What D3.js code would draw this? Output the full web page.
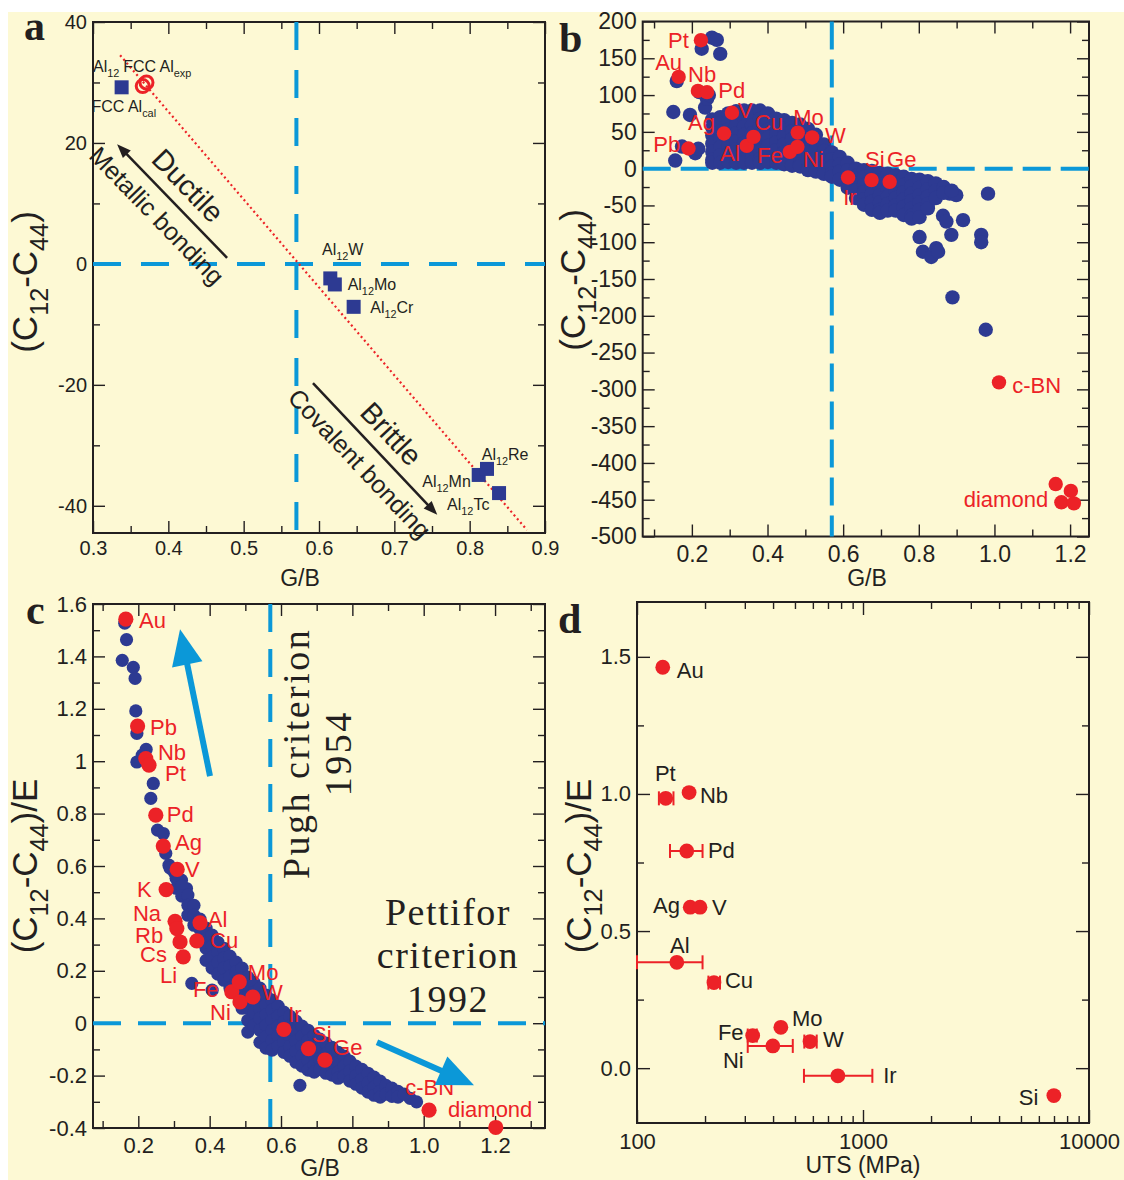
<!DOCTYPE html>
<html><head><meta charset="utf-8">
<script src="https://cdn.jsdelivr.net/npm/d3@7"></script>
<style>body{margin:0;background:#fff}svg{display:block}</style>
</head><body><script>
// ---------------- DATA ----------------
// Panel a: Al12X compounds (G/B, C12-C44)
const aSquares = [
  {name:"Al12",   gb:0.338, v:29.2},
  {name:"Al12W",  gb:0.615, v:-2.4},
  {name:"Al12Mo", gb:0.621, v:-3.4},
  {name:"Al12Cr", gb:0.646, v:-7.1},
  {name:"Al12Mn", gb:0.812, v:-34.9},
  {name:"Al12Re", gb:0.823, v:-33.9},
  {name:"Al12Tc", gb:0.839, v:-37.9}
];
const aFccAl = [{name:"exp", gb:0.371, v:30.0},{name:"cal", gb:0.366, v:29.4}];
const aTrend = [[0.336,34.5],[0.876,-44]];
const aLabels = [
  {parts:[["Al",0],["12",1]], gb:0.300, v:31.7},
  {parts:[["FCC Al",0],["exp",1]], gb:0.340, v:31.7},
  {parts:[["FCC Al",0],["cal",1]], gb:0.298, v:25.1},
  {parts:[["Al",0],["12",1],["W",0]], gb:0.604, v:1.5},
  {parts:[["Al",0],["12",1],["Mo",0]], gb:0.638, v:-4.3},
  {parts:[["Al",0],["12",1],["Cr",0]], gb:0.668, v:-8.1},
  {parts:[["Al",0],["12",1],["Re",0]], gb:0.816, v:-32.4},
  {parts:[["Al",0],["12",1],["Mn",0]], gb:0.737, v:-36.9},
  {parts:[["Al",0],["12",1],["Tc",0]], gb:0.770, v:-40.7}
];
const aArrows = [
  {from:[0.478,1.0], to:[0.332,19.8], up:"Ductile", down:"Metallic bonding"},
  {from:[0.592,-19.7], to:[0.757,-41.5], up:"Brittle", down:"Covalent bonding"}
];
const pughGB = 0.57;

// Panel b: all elements/compounds (G/B, C12-C44 in GPa)
const bScatter = [
  [0.253,178],[0.266,175],[0.226,163],[0.275,156],[0.160,119],[0.151,77],[0.195,73],
  [0.235,83],[0.240,95],[0.156,11],[0.174,30],[0.209,21],[0.217,27],[0.220,104],[0.245,100],
  [0.983,-34],[0.864,-64],[0.873,-72],[0.917,-70],[0.886,-90],[0.965,-90],[0.965,-100],
  [0.802,-93],[0.811,-113],[0.846,-108],[0.833,-120],[0.851,-113],[0.882,-34],[0.899,-36],
  [0.889,-175],[0.977,-219]
];
const bCloud = [
  [0.254,[67,56,45,34,23,12,8]],[0.275,[70,62,51,40,29,18,8]],[0.296,[75,64,53,42,31,20,9]],
  [0.317,[78,70,59,48,37,26,15,8]],[0.338,[79,68,57,46,35,24,13,8]],[0.359,[79,70,59,48,37,26,15,8]],
  [0.380,[79,68,57,46,35,24,13,8]],[0.401,[75,64,53,42,31,20,9]],[0.423,[68,58,47,36,25,14,8]],
  [0.444,[66,55,44,33,22,11,6]],[0.465,[62,51,40,29,18,7,4]],[0.486,[60,50,39,28,17,6,3]],
  [0.507,[54,44,33,22,11,0,-2]],[0.528,[46,36,25,14,3,-4]],[0.549,[33,24,13,2,-7]],
  [0.570,[22,13,3,-7,-11]],[0.591,[16,6,-4,-15]],[0.612,[8,-2,-12,-22,-26]],
  [0.634,[0,-10,-20,-30,-40]],[0.655,[-2,-12,-22,-32,-42,-49]],[0.676,[-3,-14,-24,-35,-45,-56]],
  [0.697,[-6,-16,-26,-36,-46,-56,-60]],[0.718,[-7,-18,-28,-38,-48,-57]],[0.739,[-9,-19,-30,-40,-50,-57]],
  [0.760,[-11,-22,-32,-42,-52,-63]],[0.781,[-14,-24,-34,-44,-54,-64,-68]],[0.802,[-15,-26,-36,-46,-56,-66]],
  [0.824,[-17,-28,-38,-48,-54]],[0.845,[-20,-30,-40]],[0.866,[-25,-33]],[0.887,[-30]]
];
const bRed = [
  {n:"Pt",gb:0.224,v:174.6},{n:"Au",gb:0.165,v:124.7},{n:"Nb",gb:0.216,v:105.7},{n:"Pd",gb:0.240,v:104},
  {n:"V",gb:0.306,v:76},{n:"Ag",gb:0.285,v:47.8},{n:"Al",gb:0.345,v:31},{n:"Cu",gb:0.363,v:43.2},
  {n:"Pb",gb:0.191,v:27.4},{n:"Mo",gb:0.480,v:49},{n:"W",gb:0.518,v:42.4},{n:"Fe",gb:0.459,v:22.8},
  {n:"Ni",gb:0.479,v:29.6},{n:"Ir",gb:0.613,v:-12},{n:"Si",gb:0.675,v:-15.6},{n:"Ge",gb:0.723,v:-17.9},
  {n:"c-BN",gb:1.012,v:-290.5},
  {n:"diamond",gb:1.162,v:-428.7},{n:"diamond",gb:1.202,v:-438},{n:"diamond",gb:1.177,v:-453.5},{n:"diamond",gb:1.210,v:-455}
];
const bLabels = [
  ["Pt",0.137,163.9,"start"],["Au",0.103,134,"start"],["Nb",0.190,117.7,"start"],["Pd",0.270,96,"start"],
  ["V",0.322,68.8,"start"],["Ag",0.190,52,"start"],["Cu",0.367,52.5,"start"],["Mo",0.468,59.3,"start"],
  ["W",0.552,34.8,"start"],["Pb",0.098,22.6,"start"],["Al",0.275,10.3,"start"],["Fe",0.373,7.6,"start"],
  ["Ni",0.494,2.2,"start"],["Ir",0.600,-49.5,"start"],["Si",0.658,2.2,"start"],["Ge",0.716,2.2,"start"],
  ["c-BN",1.047,-305,"start"],["diamond",1.142,-460,"end"]
];

// Panel c: (C12-C44)/E vs G/B
const cScatter = [
  [0.155,1.385],[0.167,1.464],[0.186,1.358],[0.191,1.316],[0.162,1.527],[0.193,1.192],[0.196,1.106],
  [0.222,1.045],[0.196,0.997],[0.211,1.023],[0.242,0.915],[0.235,0.858],[0.254,0.737],[0.270,0.724],
  [0.277,0.648],[0.286,0.603],[0.300,0.578],[0.321,0.546],[0.335,0.514],
  [0.350,0.152],[0.653,-0.237],[0.962,-0.287],[0.980,-0.300]
];
const cCloud = [
  [0.289,[0.592]],[0.306,[0.553,0.515]],[0.322,[0.523,0.485]],[0.339,[0.489,0.450,0.412]],
  [0.356,[0.450,0.412,0.374]],[0.373,[0.397,0.359,0.317]],[0.390,[0.363,0.324,0.286,0.240]],
  [0.407,[0.336,0.294,0.252,0.210,0.126]],[0.423,[0.309,0.271,0.233,0.187]],[0.440,[0.286,0.248,0.210,0.164]],
  [0.457,[0.256,0.218,0.179,0.134]],[0.474,[0.233,0.195,0.156,0.115]],[0.491,[0.210,0.172,0.134,0.095,0.057]],
  [0.507,[0.176,0.137,0.099,0.057,0.011,-0.034]],[0.524,[0.156,0.118,0.080,0.042,-0.008]],
  [0.541,[0.134,0.095,0.057,0.019,-0.027,-0.073]],[0.558,[0.107,0.069,0.031,-0.008,-0.053,-0.095]],
  [0.575,[0.088,0.050,0.011,-0.027,-0.065,-0.103]],[0.592,[0.065,0.027,-0.011,-0.050,-0.088]],
  [0.608,[0.042,0.004,-0.034,-0.073,-0.111]],[0.625,[0.027,-0.011,-0.050,-0.088,-0.126]],
  [0.642,[0.008,-0.031,-0.069,-0.107,-0.149]],[0.659,[-0.011,-0.050,-0.088,-0.126,-0.164]],
  [0.676,[-0.027,-0.065,-0.103,-0.141,-0.179]],[0.693,[-0.046,-0.084,-0.122,-0.160,-0.187]],
  [0.709,[-0.061,-0.099,-0.137,-0.176]],[0.726,[-0.076,-0.115,-0.153,-0.191]],
  [0.743,[-0.092,-0.130,-0.168,-0.198]],[0.760,[-0.111,-0.149,-0.187,-0.210]],
  [0.777,[-0.126,-0.164,-0.202]],[0.793,[-0.145,-0.183,-0.221]],[0.810,[-0.164,-0.202,-0.233]],
  [0.827,[-0.176,-0.214,-0.248]],[0.844,[-0.191,-0.229,-0.263]],[0.861,[-0.206,-0.244,-0.275]],
  [0.878,[-0.221,-0.260,-0.282]],[0.894,[-0.237,-0.271]],[0.911,[-0.248,-0.279]],
  [0.928,[-0.260,-0.282]],[0.945,[-0.271]]
];
const cRed = [
  {n:"Au",gb:0.165,v:1.542},{n:"Pb",gb:0.198,v:1.134},{n:"Nb",gb:0.221,v:1.010},{n:"Pt",gb:0.230,v:0.985},
  {n:"Pd",gb:0.249,v:0.794},{n:"Ag",gb:0.270,v:0.676},{n:"V",gb:0.309,v:0.587},{n:"K",gb:0.278,v:0.510},
  {n:"Na",gb:0.303,v:0.389},{n:"Rb",gb:0.308,v:0.361},{n:"Cs",gb:0.317,v:0.310},{n:"Li",gb:0.326,v:0.253},
  {n:"Al",gb:0.373,v:0.383},{n:"Cu",gb:0.364,v:0.314},{n:"Fe",gb:0.462,v:0.120},{n:"Mo",gb:0.483,v:0.158},
  {n:"Ni",gb:0.485,v:0.081},{n:"W",gb:0.521,v:0.100},{n:"Ir",gb:0.608,v:-0.024},{n:"Si",gb:0.677,v:-0.097},
  {n:"Ge",gb:0.723,v:-0.141},{n:"c-BN",gb:1.015,v:-0.332},{n:"diamond",gb:1.202,v:-0.398}
];
const cLabels = [
  ["Au",0.202,1.508],["Pb",0.233,1.099],["Nb",0.255,1.004],["Pt",0.275,0.924],["Pd",0.280,0.767],
  ["Ag",0.303,0.660],["V",0.331,0.557],["K",0.196,0.481],["Na",0.185,0.389],["Rb",0.191,0.305],
  ["Cs",0.205,0.233],["Li",0.261,0.153],["Al",0.395,0.366],["Cu",0.401,0.286],["Mo",0.507,0.164],
  ["W",0.547,0.088],["Fe",0.353,0.099],["Ni",0.401,0.011],["Ir",0.620,0.004],["Si",0.687,-0.073],
  ["Ge",0.746,-0.122],["c-BN",0.948,-0.275],["diamond",1.068,-0.359]
];
const cArrows = [{from:[0.401,0.943], to:[0.317,1.504]}, {from:[0.869,-0.073], to:[1.141,-0.237]}];
const pughText = {lines:["Pugh criterion","1954"], gb:[0.679,0.797], v:1.03};
const pettiforText = {lines:["Pettifor","criterion","1992"], gb:1.068, v:[0.374,0.210,0.042]};

// Panel d: UTS (MPa) vs (C12-C44)/E
const dPoints = [
  {n:"Au",uts:130,v:1.462},{n:"Pt",uts:134,v:0.984,lo:125,hi:145},{n:"Nb",uts:170,v:1.005},
  {n:"Pd",uts:166,v:0.792,lo:140,hi:195},{n:"Ag",uts:172,v:0.587},{n:"V",uts:190,v:0.587},
  {n:"Al",uts:150,v:0.386,lo:100,hi:195},{n:"Cu",uts:219,v:0.312,lo:207,hi:233},
  {n:"Mo",uts:433,v:0.149},{n:"Fe",uts:325,v:0.119,lo:309,hi:339},{n:"W",uts:583,v:0.097,lo:550,hi:624},
  {n:"Ni",uts:399,v:0.081,lo:309,hi:489},{n:"Ir",uts:774,v:-0.028,lo:548,hi:1100},{n:"Si",uts:6990,v:-0.100}
];
const dLabels = [
  ["Au",150,1.424],["Pt",120,1.047],["Nb",190,0.967],["Pd",206,0.767],["Ag",117.7,0.566],["V",214.6,0.559],
  ["Al",139.9,0.420],["Cu",245,0.292],["Mo",485,0.154],["Fe",228,0.103],["W",665,0.077],["Ni",240,0.001],
  ["Ir",1228,-0.054],["Si",4894,-0.134]
];

// ---------------- DRAWING ----------------
const SANS = "'Liberation Sans', Arial, Helvetica, sans-serif";
const SERIF = "'Liberation Serif', 'Times New Roman', serif";
const NAVY = "#2d3a92", RED = "#ec2227", SKY = "#0b98d8", INK = "#231f20", CREAM = "#fdf9d4";

const svg = d3.select("body").append("svg").attr("width",1124).attr("height",1180);
svg.append("rect").attr("x",8).attr("y",12).attr("width",1116).attr("height",1168).attr("fill",CREAM);

const aX = d3.scaleLinear().domain([0.3,0.9]).range([93,545]);
const aY = d3.scaleLinear().domain([-44.5,40]).range([533,22]);
const bX = d3.scaleLinear().domain([0.07,1.25]).range([642.7,1089]);
const bY = d3.scaleLinear().domain([-500,200]).range([536.5,21.5]);
const cX = d3.scaleLinear().domain([0.073,1.34]).range([93,545]);
const cY = d3.scaleLinear().domain([-0.4,1.6]).range([1128,604]);
const dX = d3.scaleLog().domain([100,10000]).range([637,1089]);
const dY = d3.scaleLinear().domain([-0.2,1.7]).range([1123,602]);

function frame(g, x, y, o) {
  const [x0,x1] = x.range(), [y0,y1] = y.range();
  const none = () => "";
  const mk = (gen, tx, ty) => g.append("g").attr("transform",`translate(${tx},${ty})`).call(gen);
  mk(d3.axisBottom(x).tickValues(o.xMaj).tickFormat(o.xFmt).tickSize(-o.L).tickSizeOuter(0).tickPadding(o.xPad), 0, y0);
  mk(d3.axisBottom(x).tickValues(o.xMin).tickFormat(none).tickSize(-o.S).tickSizeOuter(0), 0, y0);
  mk(d3.axisTop(x).tickValues(o.xMaj).tickFormat(none).tickSize(-o.L).tickSizeOuter(0), 0, y1);
  mk(d3.axisTop(x).tickValues(o.xMin).tickFormat(none).tickSize(-o.S).tickSizeOuter(0), 0, y1);
  mk(d3.axisLeft(y).tickValues(o.yMaj).tickFormat(o.yFmt).tickSize(-o.L).tickSizeOuter(0).tickPadding(o.yPad), x0, 0);
  mk(d3.axisLeft(y).tickValues(o.yMin).tickFormat(none).tickSize(-o.S).tickSizeOuter(0), x0, 0);
  mk(d3.axisRight(y).tickValues(o.yMaj).tickFormat(none).tickSize(-o.L).tickSizeOuter(0), x1, 0);
  mk(d3.axisRight(y).tickValues(o.yMin).tickFormat(none).tickSize(-o.S).tickSizeOuter(0), x1, 0);
  g.selectAll(".domain").remove();
  g.selectAll(".tick line").attr("stroke",INK).attr("stroke-width",1.4);
  g.selectAll(".tick text").attr("font-family",SANS).attr("font-size",o.fs).attr("fill",INK);
  g.append("rect").attr("x",x0).attr("y",y1).attr("width",x1-x0).attr("height",y0-y1)
    .attr("fill","none").attr("stroke",INK).attr("stroke-width",2);
}

function rich(g, x, y, parts, fs, color, anchor, subScale) {
  const ss = subScale || 0.68;
  const t = g.append("text").attr("x",x).attr("y",y).attr("font-family",SANS)
    .attr("font-size",fs).attr("fill",color).attr("text-anchor",anchor||"start");
  let shift = 0;
  parts.forEach(([s, sub]) => {
    const target = sub ? fs*0.3 : 0;
    t.append("tspan").attr("dy", target - shift).attr("font-size", sub ? fs*ss : fs).text(s);
    shift = target;
  });
  return t;
}
function yTitle(g, x, y, suffix) {
  const t = g.append("g").attr("transform",`translate(${x},${y}) rotate(-90)`);
  rich(t, 0, 0, [["(C",0],["12",1],["-C",0],["44",1],[")"+suffix,0]], 35, INK, "middle", 0.72);
}
function xTitle(g, x, y, s) {
  g.append("text").attr("x",x).attr("y",y).attr("text-anchor","middle").attr("font-family",SANS)
    .attr("font-size",23).attr("fill",INK).text(s);
}
function panelLetter(s, x, y) {
  svg.append("text").attr("x",x).attr("y",y).attr("font-family",SERIF).attr("font-weight","bold")
    .attr("font-size",42).attr("fill",INK).text(s);
}
function arrow(g, p1, p2, color, w, hl, hw) {
  const dx = p2[0]-p1[0], dy = p2[1]-p1[1], len = Math.hypot(dx,dy), ux = dx/len, uy = dy/len;
  const bx = p2[0]-ux*hl, by = p2[1]-uy*hl;
  g.append("line").attr("x1",p1[0]).attr("y1",p1[1]).attr("x2",bx+ux*2).attr("y2",by+uy*2)
    .attr("stroke",color).attr("stroke-width",w);
  g.append("path").attr("d",`M${p2[0]},${p2[1]}L${bx-uy*hw/2},${by+ux*hw/2}L${bx+uy*hw/2},${by-ux*hw/2}Z`).attr("fill",color);
}
function dashes(g, x, y, xv, yv, da) {
  const [x0,x1] = x.range(), [y0,y1] = y.range();
  g.append("line").attr("x1",x0).attr("x2",x1).attr("y1",y(yv)).attr("y2",y(yv))
    .attr("stroke",SKY).attr("stroke-width",4).attr("stroke-dasharray",da);
  g.append("line").attr("x1",x(xv)).attr("x2",x(xv)).attr("y1",y1).attr("y2",y0)
    .attr("stroke",SKY).attr("stroke-width",4).attr("stroke-dasharray",da);
}
const flat = cols => cols.flatMap(([gb, vs]) => vs.map(v => [gb, v]));

// ===== Panel a =====
const gA = svg.append("g");
frame(gA, aX, aY, {xMaj:[0.3,0.4,0.5,0.6,0.7,0.8,0.9], xMin:[0.35,0.45,0.55,0.65,0.75,0.85],
  yMaj:[-40,-20,0,20,40], yMin:[-30,-10,10,30], xFmt:d=>d.toFixed(1), yFmt:d=>String(d),
  L:12, S:7, fs:20, xPad:8, yPad:6});
dashes(gA, aX, aY, pughGB, 0, "28,20");
gA.append("line").attr("x1",aX(aTrend[0][0])).attr("y1",aY(aTrend[0][1]))
  .attr("x2",aX(aTrend[1][0])).attr("y2",aY(aTrend[1][1]))
  .attr("stroke",RED).attr("stroke-width",2.2).attr("stroke-dasharray","2,3");
gA.selectAll("rect.sq").data(aSquares).join("rect").attr("class","sq")
  .attr("x",d=>aX(d.gb)-7).attr("y",d=>aY(d.v)-7).attr("width",14).attr("height",14).attr("fill",NAVY);
gA.selectAll("circle.fcc").data(aFccAl).join("circle").attr("class","fcc")
  .attr("cx",d=>aX(d.gb)).attr("cy",d=>aY(d.v)).attr("r",6.5).attr("fill","none")
  .attr("stroke",RED).attr("stroke-width",3);
aLabels.forEach(l => rich(gA, aX(l.gb), aY(l.v), l.parts, 16, INK));
aArrows.forEach(a => {
  const p1 = [aX(a.from[0]), aY(a.from[1])], p2 = [aX(a.to[0]), aY(a.to[1])];
  arrow(gA, p1, p2, INK, 2.5, 14, 11);
  let ang = Math.atan2(p2[1]-p1[1], p2[0]-p1[0]) * 180/Math.PI;
  if (ang < -90 || ang > 90) ang += 180;
  const mx = (p1[0]+p2[0])/2, my = (p1[1]+p2[1])/2;
  const r = ang*Math.PI/180, nx = Math.sin(r), ny = -Math.cos(r);
  gA.append("text").attr("transform",`translate(${mx+nx*12},${my+ny*12}) rotate(${ang})`)
    .attr("text-anchor","middle").attr("font-family",SANS).attr("font-size",29).attr("fill",INK).text(a.up);
  gA.append("text").attr("transform",`translate(${mx-nx*30},${my-ny*30}) rotate(${ang})`)
    .attr("text-anchor","middle").attr("font-family",SANS).attr("font-size",25).attr("fill",INK).text(a.down);
});
yTitle(gA, 37, 282, "");
xTitle(gA, 300, 586, "G/B");
panelLetter("a", 24, 40);

// ===== Panel b =====
const gB = svg.append("g");
frame(gB, bX, bY, {xMaj:[0.2,0.4,0.6,0.8,1.0,1.2], xMin:[0.1,0.3,0.5,0.7,0.9,1.1],
  yMaj:d3.range(-500,201,50), yMin:d3.range(-475,200,50), xFmt:d=>d.toFixed(1), yFmt:d=>String(d),
  L:12, S:7, fs:23, xPad:9, yPad:6});
dashes(gB, bX, bY, pughGB, 0, "28,10");
gB.selectAll("circle.blue").data(bScatter.concat(flat(bCloud))).join("circle").attr("class","blue")
  .attr("cx",d=>bX(d[0])).attr("cy",d=>bY(d[1])).attr("r",7.2).attr("fill",NAVY);
gB.selectAll("circle.red").data(bRed).join("circle").attr("class","red")
  .attr("cx",d=>bX(d.gb)).attr("cy",d=>bY(d.v)).attr("r",7.2).attr("fill",RED);
bLabels.forEach(([s,gb,v,anc]) => gB.append("text").attr("x",bX(gb)).attr("y",bY(v)).attr("text-anchor",anc)
  .attr("font-family",SANS).attr("font-size",22).attr("fill",RED).text(s));
yTitle(gB, 585, 280, "");
xTitle(gB, 867, 586, "G/B");
panelLetter("b", 559, 52);

// ===== Panel c =====
const gC = svg.append("g");
frame(gC, cX, cY, {xMaj:[0.2,0.4,0.6,0.8,1.0,1.2], xMin:[0.1,0.3,0.5,0.7,0.9,1.1,1.3],
  yMaj:[-0.4,-0.2,0,0.2,0.4,0.6,0.8,1,1.2,1.4,1.6], yMin:[-0.3,-0.1,0.1,0.3,0.5,0.7,0.9,1.1,1.3,1.5],
  xFmt:d=>d.toFixed(1), yFmt:d=>(Math.abs(d)<1e-9?"0":(Math.abs(d-1)<1e-9?"1":d.toFixed(1))),
  L:12, S:7, fs:22, xPad:9, yPad:6});
dashes(gC, cX, cY, pughGB, 0, "28,17");
gC.selectAll("circle.blue").data(cScatter.concat(flat(cCloud))).join("circle").attr("class","blue")
  .attr("cx",d=>cX(d[0])).attr("cy",d=>cY(d[1])).attr("r",6.6).attr("fill",NAVY);
gC.selectAll("circle.red").data(cRed).join("circle").attr("class","red")
  .attr("cx",d=>cX(d.gb)).attr("cy",d=>cY(d.v)).attr("r",7.6).attr("fill",RED);
cLabels.forEach(([s,gb,v]) => gC.append("text").attr("x",cX(gb)).attr("y",cY(v))
  .attr("font-family",SANS).attr("font-size",22).attr("fill",RED).text(s));
cArrows.forEach(a => arrow(gC, [cX(a.from[0]),cY(a.from[1])], [cX(a.to[0]),cY(a.to[1])], SKY, 6, 36, 31));
pughText.lines.forEach((s,i) => gC.append("text")
  .attr("transform",`translate(${cX(pughText.gb[i])},${cY(pughText.v)}) rotate(-90)`)
  .attr("text-anchor","middle").attr("font-family",SERIF).attr("font-size",38).attr("letter-spacing",2.5)
  .attr("fill",INK).text(s));
pettiforText.lines.forEach((s,i) => gC.append("text").attr("x",cX(pettiforText.gb)).attr("y",cY(pettiforText.v[i]))
  .attr("text-anchor","middle").attr("font-family",SERIF).attr("font-size",38).attr("letter-spacing",1.5)
  .attr("fill",INK).text(s));
yTitle(gC, 37, 866, "/E");
xTitle(gC, 320, 1176, "G/B");
panelLetter("c", 26, 624);

// ===== Panel d =====
const gD = svg.append("g");
frame(gD, dX, dY, {xMaj:[100,1000,10000], xMin:[200,300,400,500,600,700,800,900,2000,3000,4000,5000,6000,7000,8000,9000],
  yMaj:[0,0.5,1.0,1.5], yMin:[0.25,0.75,1.25], xFmt:d=>String(d), yFmt:d=>d.toFixed(1),
  L:13, S:7, fs:22, xPad:10, yPad:6});
const gDe = gD.append("g");
dPoints.filter(p => p.lo).forEach(p => {
  const y = dY(p.v);
  gDe.append("line").attr("x1",dX(p.lo)).attr("x2",dX(p.hi)).attr("y1",y).attr("y2",y).attr("stroke",RED).attr("stroke-width",2);
  [p.lo,p.hi].forEach(u => gDe.append("line").attr("x1",dX(u)).attr("x2",dX(u)).attr("y1",y-7).attr("y2",y+7)
    .attr("stroke",RED).attr("stroke-width",2));
});
gD.selectAll("circle.red").data(dPoints).join("circle").attr("class","red")
  .attr("cx",d=>dX(d.uts)).attr("cy",d=>dY(d.v)).attr("r",7.4).attr("fill",RED);
dLabels.forEach(([s,u,v]) => gD.append("text").attr("x",dX(u)).attr("y",dY(v))
  .attr("font-family",SANS).attr("font-size",22).attr("fill",INK).text(s));
yTitle(gD, 591, 866, "/E");
xTitle(gD, 863, 1173, "UTS (MPa)");
panelLetter("d", 558, 633);
</script></body></html>
